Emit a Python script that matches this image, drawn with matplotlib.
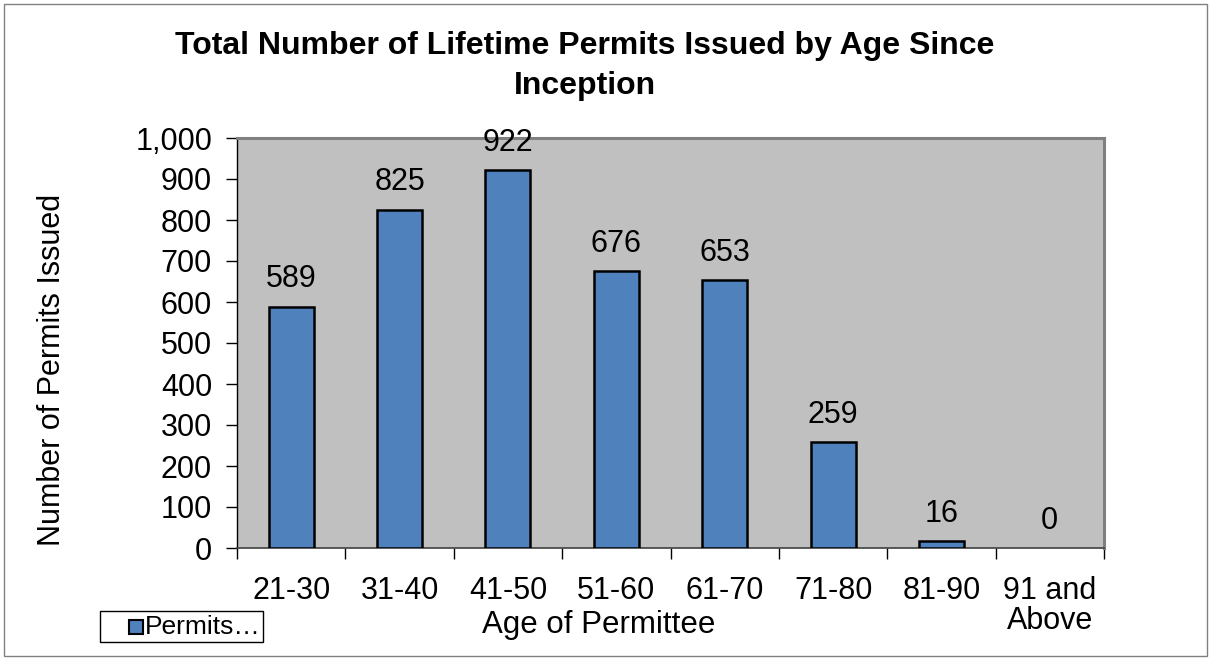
import matplotlib
matplotlib.use("Agg")
import matplotlib.pyplot as plt
from matplotlib.patches import Rectangle

plt.rcParams["font.family"] = ["Liberation Sans", "DejaVu Sans"]

age_groups = ["21-30", "31-40", "41-50", "51-60", "61-70", "71-80", "81-90", "91 and\nAbove"]
permits = [589, 825, 922, 676, 653, 259, 16, 0]
y_ticks = [0, 100, 200, 300, 400, 500, 600, 700, 800, 900, 1000]

bar_color = "#4F81BD"

fig = plt.figure(figsize=(12.12, 6.6), dpi=100)
ax = fig.add_axes([237 / 1212, 1 - 548 / 660, 867 / 1212, 410 / 660])
ax.set_facecolor("#C0C0C0")

x = list(range(len(age_groups)))
bars = ax.bar(x, permits, width=0.415, color=bar_color, edgecolor="black",
              linewidth=1.8, zorder=3)
for b, v in zip(bars, permits):
    if v == 0:
        b.set_linewidth(0)
for xi, v in zip(x, permits):
    ax.text(xi, v + 30, str(v), ha="center", va="bottom", fontsize=22)

ax.set_xlim(-0.5, len(age_groups) - 0.5)
ax.set_ylim(0, 1000)
ax.set_yticks(y_ticks)
ax.set_yticklabels([f"{t:,}" for t in y_ticks], fontsize=22)
ax.set_xticks(x)
ax.set_xticklabels(age_groups, fontsize=22, va="top", linespacing=1.0)
ax.tick_params(axis="x", length=0, pad=20)
ax.set_xticks([i - 0.5 for i in range(len(age_groups) + 1)], minor=True)
ax.tick_params(axis="x", which="minor", length=8, width=1, direction="out")
ax.tick_params(axis="y", length=8, width=1, direction="out", pad=10)

for side in ["top", "right"]:
    ax.spines[side].set_color("#808080")
    ax.spines[side].set_linewidth(2.2)
ax.spines["left"].set_color("black")
ax.spines["bottom"].set_color("#404040")
ax.spines["left"].set_linewidth(1)
ax.spines["bottom"].set_linewidth(1.2)

fig.text(585 / 1212, 1 - 66 / 660, "Total Number of Lifetime Permits Issued by Age Since\nInception",
         ha="center", va="center", fontsize=23, fontweight="bold", linespacing=1.4)
fig.text(52 / 1212, 1 - 370 / 660, "Number of Permits Issued", rotation=90,
         ha="center", va="center", fontsize=22)
fig.text(599 / 1212, 1 - 625 / 660, "Age of Permittee", ha="center", va="center", fontsize=22.5)

# legend box drawn by hand (Excel style, truncated entry)
fig.patches.append(Rectangle((100 / 1212, 1 - 642 / 660), 163 / 1212, 31 / 660,
                             transform=fig.transFigure, facecolor="white",
                             edgecolor="black", linewidth=1))
fig.patches.append(Rectangle((129 / 1212, 1 - 634 / 660), 14 / 1212, 14 / 660,
                             transform=fig.transFigure, facecolor=bar_color,
                             edgecolor="black", linewidth=1.5))
fig.text(145 / 1212, 1 - 627 / 660, "Permits…", ha="left", va="center", fontsize=19)

fig.patches.append(Rectangle((4 / 1212, 4 / 660), 1203 / 1212, 652 / 660,
                             transform=fig.transFigure, fill=False,
                             edgecolor="#808080", linewidth=1))

fig.savefig("out.png", dpi=100)
